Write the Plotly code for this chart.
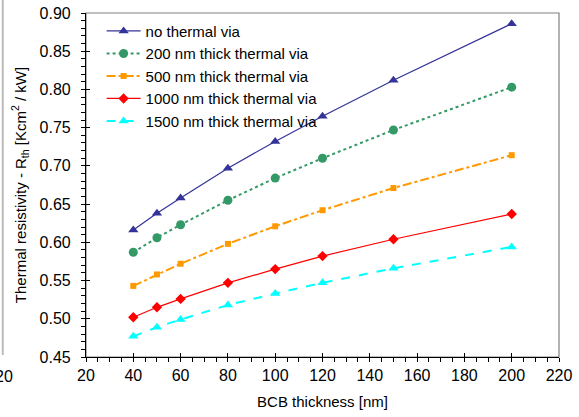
import plotly.graph_objects as go

bcb_thickness = [40, 50, 60, 80, 100, 120, 150, 200]
no_via = [0.616, 0.638, 0.658, 0.697, 0.732, 0.765, 0.812, 0.886]
via_200 = [0.587, 0.606, 0.623, 0.655, 0.684, 0.710, 0.747, 0.803]
via_500 = [0.543, 0.558, 0.572, 0.598, 0.621, 0.642, 0.671, 0.714]
via_1000 = [0.502, 0.515, 0.526, 0.547, 0.565, 0.582, 0.604, 0.637]
via_1500 = [0.477, 0.489, 0.499, 0.518, 0.533, 0.547, 0.566, 0.594]

series = [
    ("no thermal via", no_via, "#333399", "solid", "triangle-up", 9),
    ("200 nm thick thermal via", via_200, "#339966", "dot", "circle", 9),
    ("500 nm thick thermal via", via_500, "#FF9900", "dashdot", "square", 6),
    ("1000 nm thick thermal via", via_1000, "#FF0000", "solid", "diamond", 8),
    ("1500 nm thick thermal via", via_1500, "#00FFFF", "dash", "triangle-up", 9),
]

font_family = "Liberation Sans, Arial, sans-serif"

fig = go.Figure()
for name, vals, color, dash, sym, size in series:
    fig.add_trace(go.Scatter(
        x=bcb_thickness, y=vals, name=name, mode="lines+markers",
        line=dict(color=color, width=1.2 if dash == "solid" else 2, dash=dash),
        marker=dict(symbol=sym, size=size, color=color),
    ))

# invisible trace for overlay axes (inside major ticks)
fig.add_trace(go.Scatter(x=[20, 220], y=[0.45, 0.90], xaxis="x2", yaxis="y2",
                         mode="markers", marker=dict(opacity=0), showlegend=False,
                         hoverinfo="skip"))

axis_common = dict(showgrid=False, zeroline=False, showline=True, linecolor="black",
                   linewidth=1.2, ticks="outside", ticklen=4, tickcolor="black",
                   automargin=False,
                   tickfont=dict(size=16, color="black", family=font_family))

fig.update_layout(
    width=579, height=417,
    margin=dict(l=86, r=20, t=13, b=60),
    paper_bgcolor="white", plot_bgcolor="white",
    font=dict(family=font_family, size=15, color="black"),
    xaxis=dict(range=[20, 220], dtick=20, tick0=20, ticklabelstandoff=0,
               title=dict(text="BCB thickness [nm]", font=dict(size=15), standoff=13),
               minor=dict(dtick=5, ticks="outside", ticklen=4, tickcolor="black"),
               **axis_common),
    yaxis=dict(range=[0.45, 0.90], dtick=0.05, tick0=0.45, tickformat=".2f",
               ticklabelstandoff=7,
               title=dict(text="Thermal resistivity - R<sub>th</sub> [Kcm<sup>2</sup> / kW]",
                          font=dict(size=15), standoff=9),
               minor=dict(dtick=0.01, ticks="outside", ticklen=4, tickcolor="black"),
               **axis_common),
    xaxis2=dict(overlaying="x", range=[20, 220], dtick=20, tick0=20, showticklabels=False,
                showgrid=False, zeroline=False, showline=False, ticks="inside",
                ticklen=4, tickcolor="black", tickwidth=1.2, automargin=False),
    yaxis2=dict(overlaying="y", range=[0.45, 0.90], dtick=0.05, tick0=0.45,
                showticklabels=False, showgrid=False, zeroline=False, showline=False,
                ticks="inside", ticklen=4, tickcolor="black", tickwidth=1.2,
                automargin=False),
    legend=dict(x=0.033, y=0.995, xanchor="left", yanchor="top", bgcolor="rgba(0,0,0,0)",
                font=dict(size=15, color="black"), tracegroupgap=0, itemwidth=34),
    shapes=[
        dict(type="rect", xref="x domain", yref="y domain", x0=0, x1=1, y0=0, y1=1,
             line=dict(color="#808080", width=1.2), layer="below"),
        dict(type="line", xref="paper", yref="paper", x0=-0.176, x1=-0.176, y0=0.006, y1=1.04,
             line=dict(color="#BBBBBB", width=2)),
    ],
    annotations=[
        dict(text="20", xref="paper", yref="paper", x=-0.150, y=-0.058, xanchor="right",
             yanchor="middle", showarrow=False, font=dict(size=16, color="black")),
    ],
)

fig.write_html("out.html", config={"displayModeBar": False},
               post_script="document.body.style.margin='0';document.body.style.padding='0';")
